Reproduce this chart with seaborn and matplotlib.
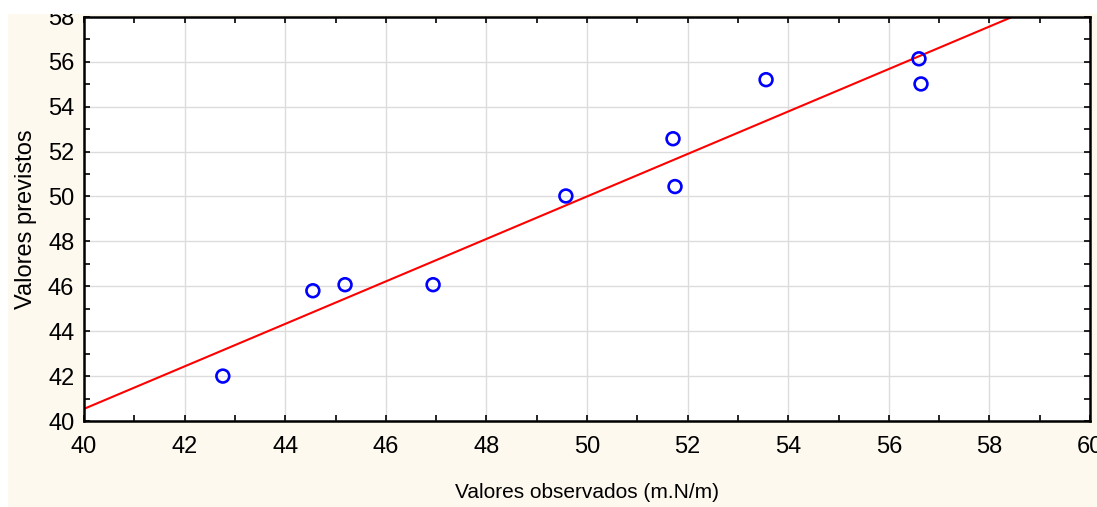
import matplotlib
matplotlib.use("Agg")
import matplotlib.pyplot as plt
import seaborn as sns
import pandas as pd
from matplotlib.ticker import MultipleLocator
from matplotlib.patches import Rectangle

# Data
observados = [42.76, 44.55, 45.19, 46.94, 49.58, 51.71, 51.75, 53.56, 56.60, 56.64]
previstos = [42.00, 45.80, 46.07, 46.07, 50.02, 52.57, 50.44, 55.20, 56.13, 55.01]
x_label = "Valores observados (m.N/m)"
y_label = "Valores previstos"

df = pd.DataFrame({"obs": observados, "prev": previstos})

sns.set_style("white")
plt.rcParams["font.family"] = ["Liberation Sans", "DejaVu Sans"]
plt.rcParams["text.color"] = "black"
plt.rcParams["axes.labelcolor"] = "black"
plt.rcParams["xtick.color"] = "black"
plt.rcParams["ytick.color"] = "black"

cream = "#FEF9EF"
fig = plt.figure(figsize=(10.97, 5.07), dpi=100, facecolor=cream)
ax = fig.add_axes([84 / 1097, 1 - 421 / 507, (1090 - 84) / 1097, (421 - 16.8) / 507])
ax.set_facecolor("white")
ax.set_xlim(40, 60)
ax.set_ylim(40, 58)

sns.regplot(data=df, x="obs", y="prev", ax=ax, ci=None, truncate=False,
            scatter=False, line_kws=dict(color="#FF0000", lw=1.5, zorder=2))
sns.scatterplot(data=df, x="obs", y="prev", ax=ax, marker="o", s=85,
                facecolor="none", edgecolor="#0000FF", linewidth=1.9, zorder=3)

ax.set_xlim(40, 60)
ax.set_ylim(40, 58)
ax.xaxis.set_major_locator(MultipleLocator(2))
ax.xaxis.set_minor_locator(MultipleLocator(1))
ax.yaxis.set_major_locator(MultipleLocator(2))
ax.yaxis.set_minor_locator(MultipleLocator(1))
ax.grid(True, which="major", color="#DCDCDC", lw=1.0, zorder=0)
ax.set_axisbelow(True)
ax.tick_params(which="both", direction="in", top=True, right=True,
               bottom=True, left=True, color="black", width=1.2, length=4)
ax.tick_params(axis="x", which="major", labelsize=17, pad=11, labelcolor="black")
ax.tick_params(axis="y", which="major", labelsize=17, pad=7, labelcolor="black")
for s in ax.spines.values():
    s.set_visible(True)
    s.set_color("black")
    s.set_linewidth(1.8)

ax.set_xlabel(x_label, fontsize=15, color="black")
ax.set_ylabel(y_label, fontsize=17, color="black")
ax.xaxis.set_label_coords(0.5, (1 - 493 / 507 - (1 - 421 / 507)) / ((421 - 16.8) / 507))
ax.yaxis.set_label_coords((26 - 84) / (1090 - 84), 0.5)
ax.xaxis.label.set_va("center")
ax.yaxis.label.set_va("center")

# white margins at the top and left edges of the image
fig.add_artist(Rectangle((0, 1 - 14 / 507), 1, 14 / 507, transform=fig.transFigure,
                         facecolor="white", edgecolor="none", zorder=10))
fig.add_artist(Rectangle((0, 0), 8 / 1097, 1, transform=fig.transFigure,
                         facecolor="white", edgecolor="none", zorder=10))

fig.savefig("out.png", dpi=100, facecolor=cream)
